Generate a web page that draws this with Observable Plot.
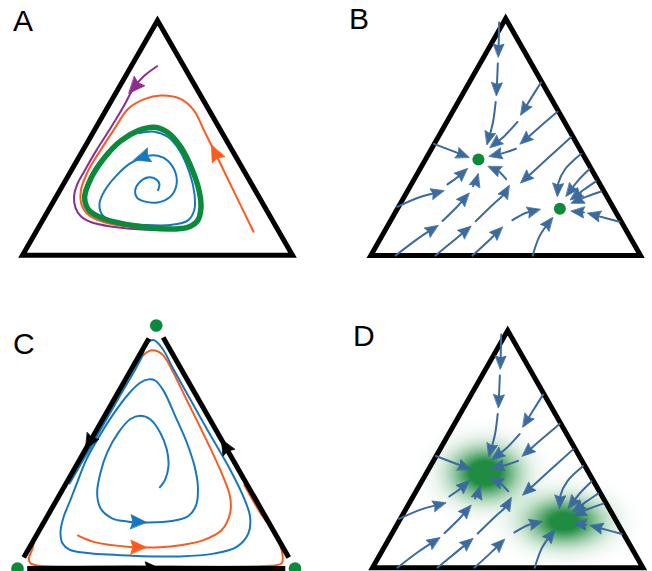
<!DOCTYPE html>
<html><head><meta charset="utf-8">
<script src="https://cdn.jsdelivr.net/npm/d3@7"></script>
<script src="https://cdn.jsdelivr.net/npm/@observablehq/plot@0.6"></script>
<style>
html,body{margin:0;padding:0;background:#fff;}
#wrap{position:relative;width:652px;height:571px;overflow:hidden;font-family:"Liberation Sans",Arial,Helvetica,sans-serif;}
.panel{position:absolute;width:326px;}
.panel svg{display:block;overflow:visible;}
.lbl{position:absolute;font-size:30px;line-height:30px;color:#000;}
</style></head><body><div id="wrap"></div>
<script>
// ---------- data (simplex in cartesian units, side = 100) ----------
const panelLabels = ["A","B","C","D"];
const TRI = [[0,0],[100,0],[50,86.6]];

// Panel A
const aGreen = [[48.8,47.2],[53.8,45.3],[58.7,39.8],[63.0,31.2],[65.4,23.8],[66.1,17.6],[64.8,12.7],[61.1,10.3],[53.8,9.7],[41.4,10.9],[30.4,13.4],[24.8,16.4],[23.0,21.3],[25.5,28.7],[30.4,36.1],[36.5,42.3],[42.7,45.9]];
const aBlue = [[50.1,23.8],[50.7,26.3],[49.4,28.1],[46.4,28.7],[43.3,26.9],[41.7,23.8],[42.4,21.3],[45.1,19.9],[50.1,19.5],[54.4,21.3],[56.8,25.0],[56.8,30.0],[53.8,34.9],[50.1,36.7],[46.4,36.7],[43.9,35.9],[39.6,33.7],[34.7,29.3],[30.4,23.8],[28.5,18.9],[29.8,14.6],[35.3,12.1],[45.1,11.2],[55.0,11.2],[61.3,12.9],[63.6,16.6],[63.7,22.6],[62.0,30.0],[58.2,38.6],[53.6,43.8],[48.8,45.6],[42.9,45.0]];
const aPurple = [[50.1,69.9],[45.1,66.2],[41.4,62.0],[37.2,54.5],[32.8,47.2],[27.3,38.6],[23.0,31.2],[20.2,26.0],[19.1,22.0],[19.6,17.6],[21.6,14.4],[25.5,12.2],[32.8,10.6],[42.7,9.6],[51.3,9.4]];
const aOrange = [[85.7,8.4],[78.5,23.1],[71.3,37.9],[67.3,45.9],[63.6,53.3],[58.7,57.6],[51.3,58.9],[45.1,57.6],[39.0,53.9],[34.4,47.2],[28.8,38.6],[24.3,31.2],[21.6,23.8],[22.0,18.3],[24.8,14.6],[31.0,12.0],[42.1,10.2],[51.3,9.6]];
const aArrowPos = [["purple",41.4,62.0],["orange",71.3,37.9],["blue",44.2,36.1]];

// Panels B and D: stream segments (each ends in an arrowhead)
const streams = [
 [[47.6,85.1],[47.3,72.5]],
 [[47.1,70.2],[46.6,58.4]],
 [[46.3,56.1],[45.3,48.7],[43.1,40.5]],
 [[63.1,63.2],[59.5,57.6],[55.6,51.3]],
 [[54.4,48.8],[49.4,43.5],[44.2,39.4]],
 [[69.2,52.5],[62.4,46.8],[55.4,40.7]],
 [[53.8,39.0],[49.4,37.5],[43.9,36.2]],
 [[23.4,40.8],[36.4,35.9]],
 [[9.8,17.8],[17.8,21.2],[27.1,23.7]],
 [[28.4,26.0],[32.7,29.0],[35.8,31.8]],
 [[9.2,0],[17.1,5.9],[24.9,11.0]],
 [[26.6,12.6],[32.0,17.8],[36.4,22.8]],
 [[37.9,25.3],[39.2,27.9],[39.8,29.9]],
 [[24.0,0],[30.9,5.6],[37.1,10.7]],
 [[38.9,12.5],[45.7,19.0],[49.4,22.3],[51.3,25.6]],
 [[50.2,27.9],[47.2,30.9],[43.5,32.5]],
 [[37.7,0],[43.9,5.6],[48.8,10.4]],
 [[52.5,12.9],[57.6,15.6],[62.8,16.9]],
 [[60.0,0],[62.4,6.7],[65.0,10.8],[67.4,13.9]],
 [[74.2,43.2],[64.9,34.9],[55.6,26.5]],
 [[77.9,37.1],[72.1,31.6],[69.5,26.4],[69.2,21.6]],
 [[81.0,31.5],[76.6,27.1],[72.4,21.6]],
 [[83.5,27.1],[79.2,24.2],[74.0,20.3]],
 [[85.4,23.4],[80.3,21.6],[74.3,19.1]],
 [[92.2,12.3],[86.6,13.8],[80.4,15.4]],
 [[79.0,15.7],[74.3,16.2]]
];
const bFixed = [[39.9,35.1],[70.1,17.1]];
const dGlow = [
 {x:41.5, y:34.5, sx:8.2, sy:6.2, a:1.15},
 {x:71.0, y:16.8, sx:9.2, sy:5.6, a:1.05}
];

// Panel C
const cBlue = [[51.1,28.7],[53.2,31.7],[54.4,36.4],[53.8,42.4],[51.4,48.5],[47.8,53.2],[44.2,54.4],[40.6,53.2],[36.4,48.5],[32.3,41.3],[29.9,34.1],[28.7,26.9],[29.9,21.5],[34.1,17.9],[40.0,16.7],[47.2,16.4],[55.6,16.9],[61.6,18.7],[64.4,22.7],[65.0,29.2],[63.8,36.4],[61.0,44.9],[56.8,54.4],[52.6,63.4],[49.6,67.0],[47.2,67.4],[44.2,66.2],[40.0,62.2],[34.1,54.4],[28.8,46.0],[24.8,38.8],[21.9,31.7],[19.1,24.5],[16.5,18.0],[15.5,12.9],[16.2,9.0],[18.7,6.7],[25.1,5.5],[40.6,4.6],[58.6,4.3],[70.6,5.3],[79.0,7.7],[83.2,12.5],[83.8,18.5],[81.4,25.6],[76.6,35.3],[68.3,49.6],[62.2,60.4],[56.1,71.2],[52.2,78.4],[49.0,81.4],[46.4,79.9],[44.6,75],[36.0,60],[27.3,45],[18.6,30]];
const cOrange = [[21.5,11.9],[27.4,9.5],[40.6,7.7],[51.4,7.6],[58.6,8.3],[67.0,10.1],[73.6,13.7],[76.6,19.7],[76.6,25.6],[73.0,35.3],[66.2,49.6],[60.8,60.4],[55.8,70.5],[52.2,76.3],[48.5,77.8],[45.6,76.3],[40.8,70],[32.2,55],[23.5,40],[14.8,25],[6.2,10],[5.4,7.1],[4.1,3.5],[4.7,1.9],[7.1,1.1],[40.6,0.9],[88.6,0.9],[95.2,1.9],[95.2,6.5],[92.8,12.3],[87.4,20],[81.6,30]];
const cEdges = [
 [[47.35,82.0],[2.25,3.9]],
 [[97.75,3.9],[52.5,82.3]],
 [[3.5,0],[96.5,0]]
];
const cEdgeArrowPos = [[25.9,44.9],[74.8,43.6],[48.7,0]];
const cArrowPos = [["blue",43.6,16.6],["orange",43.6,7.6]];
const cFixed = [[0,0],[100,0],[50,86.6]];

// ---------- colours ----------
const GREEN="#0b8a3c", BLUE="#1677c0", ORANGE="#ff5a1e", PURPLE="#8c2d8f", STREAM="#3b6a9e", GLOW="rgb(8,128,44)";

// ---------- helpers ----------
function head(tx,ty,dx,dy,len,hw){
  const n=Math.hypot(dx,dy),ux=dx/n,uy=dy/n,px=-uy,py=ux;
  const bx=tx-ux*len,by=ty-uy*len,nx=tx-ux*len*0.86,ny=ty-uy*len*0.86;
  return [[tx,ty],[bx+px*hw,by+py*hw],[nx,ny],[bx-px*hw,by-py*hw]];
}
function dirAt(pts,x,y){
  let best=null,bd=Infinity;
  for(let i=0;i<pts.length-1;i++){
    const [x0,y0]=pts[i],[x1,y1]=pts[i+1],dx=x1-x0,dy=y1-y0,L2=dx*dx+dy*dy;
    let t=((x-x0)*dx+(y-y0)*dy)/L2; t=Math.max(0,Math.min(1,t));
    const d=(x0+t*dx-x)**2+(y0+t*dy-y)**2;
    if(d<bd){bd=d;best=[dx,dy];}
  }
  return best;
}
function midHead(pts,x,y,len,hw){
  const [dx,dy]=dirAt(pts,x,y),n=Math.hypot(dx,dy);
  return head(x+dx/n*len/2,y+dy/n*len/2,dx,dy,len,hw);
}
const rows=(polys)=>polys.flatMap((p,i)=>p.map(([x,y])=>({id:i,x,y})));
function trimmed(segs,cut){
  return segs.map(s=>{
    const a=s[s.length-2],b=s[s.length-1],dx=b[0]-a[0],dy=b[1]-a[1],n=Math.hypot(dx,dy);
    return [...s.slice(0,-1),[b[0]-dx/n*cut,b[1]-dy/n*cut]];
  });
}
const tipHeads=(segs,len,hw)=>segs.map(s=>{const a=s[s.length-2],b=s[s.length-1];return head(b[0],b[1],b[0]-a[0],b[1]-a[1],len,hw);});

const xy={x:d=>d[0],y:d=>d[1]};
const triMark=()=>Plot.line(TRI,{...xy,curve:"linear-closed",stroke:"#000",strokeWidth:5,strokeLinejoin:"miter",strokeMiterlimit:10});
const curve=(data,color,w)=>Plot.line(data,{...xy,curve:"catmull-rom",stroke:color,strokeWidth:w,strokeLinecap:"butt"});
const heads=(polys,color)=>Plot.line(rows(polys),{x:"x",y:"y",z:"id",curve:"linear-closed",fill:color,stroke:color,strokeWidth:0.8,strokeLinejoin:"round"});

function streamMarks(){
  return [
    Plot.line(rows(trimmed(streams,2.2)),{x:"x",y:"y",z:"id",curve:"catmull-rom",stroke:STREAM,strokeWidth:2}),
    heads(tipHeads(streams,4.8,2.0),STREAM)
  ];
}

const wrap=document.getElementById("wrap");
function makePanel(box,marks){
  const svg=Plot.plot({
    width:box.w,height:box.h,
    marginLeft:box.ml,marginRight:box.mr,marginTop:box.mt,marginBottom:box.mb,
    x:{domain:[0,100],axis:null},
    y:{domain:[0,86.6],axis:null},
    style:{background:"transparent",overflow:"visible"},
    marks
  });
  const div=document.createElement("div");
  div.className="panel";
  div.style.left=box.left+"px";div.style.top=box.top+"px";div.style.height=box.h+"px";
  div.appendChild(svg);wrap.appendChild(div);
}

// ---------- Panel A ----------
const aCurves={purple:aPurple,orange:aOrange,blue:aBlue};
const aColors={purple:PURPLE,orange:ORANGE,blue:BLUE};
makePanel({left:0,top:0,w:326,h:285,ml:22,mr:34,mt:20,mb:30.2},[
  triMark(),
  curve(aPurple,PURPLE,2),
  curve(aOrange,ORANGE,2),
  curve(aBlue,BLUE,2),
  Plot.line(aGreen,{...xy,curve:"catmull-rom-closed",stroke:GREEN,strokeWidth:5.5}),
  ...aArrowPos.map(([k,x,y])=>heads([midHead(aCurves[k],x,y,6.0,2.6)],aColors[k]))
]);

// ---------- Panel B ----------
makePanel({left:326,top:0,w:326,h:285,ml:44.3,mr:12,mt:18,mb:30},[
  triMark(),
  ...streamMarks(),
  Plot.dot(bFixed,{...xy,r:6,fill:GREEN,stroke:"none"})
]);

// ---------- Panel C ----------
const cCurves={blue:cBlue,orange:cOrange};
const cColors={blue:BLUE,orange:ORANGE};
makePanel({left:0,top:285,w:326,h:286,ml:17,mr:31.5,mt:40,mb:3},[
  curve(cOrange,ORANGE,2),
  curve(cBlue,BLUE,2),
  Plot.line(rows(cEdges),{x:"x",y:"y",z:"id",stroke:"#000",strokeWidth:5,strokeLinecap:"butt"}),
  ...cArrowPos.map(([k,x,y])=>heads([midHead(cCurves[k],x,y,5.6,2.5)],cColors[k])),
  heads(cEdgeArrowPos.map(([x,y],i)=>midHead(cEdges[i],x,y,5.4,2.4)),"#000"),
  Plot.dot(cFixed,{...xy,r:6.3,fill:GREEN,stroke:"none"})
]);

// ---------- Panel D ----------
const glowOpacity=(x,y)=>Math.min(0.9,d3.sum(dGlow,g=>g.a*Math.exp(-((x-g.x)**2/(2*g.sx*g.sx)+(y-g.y)**2/(2*g.sy*g.sy)))));
makePanel({left:326,top:285,w:326,h:286,ml:46,mr:9.6,mt:45,mb:3.8},[
  Plot.raster({x1:0,x2:100,y1:0,y2:86.6,width:270,height:237,fill:GLOW,fillOpacity:glowOpacity,imageRendering:"auto"}),
  triMark(),
  ...streamMarks()
]);

// ---------- labels ----------
const labelPos=[[13,6],[349,4],[13,329],[353,321]];
panelLabels.forEach((t,i)=>{
  const s=document.createElement("div");s.className="lbl";s.textContent=t;
  s.style.left=labelPos[i][0]+"px";s.style.top=labelPos[i][1]+"px";wrap.appendChild(s);
});
</script></body></html>
